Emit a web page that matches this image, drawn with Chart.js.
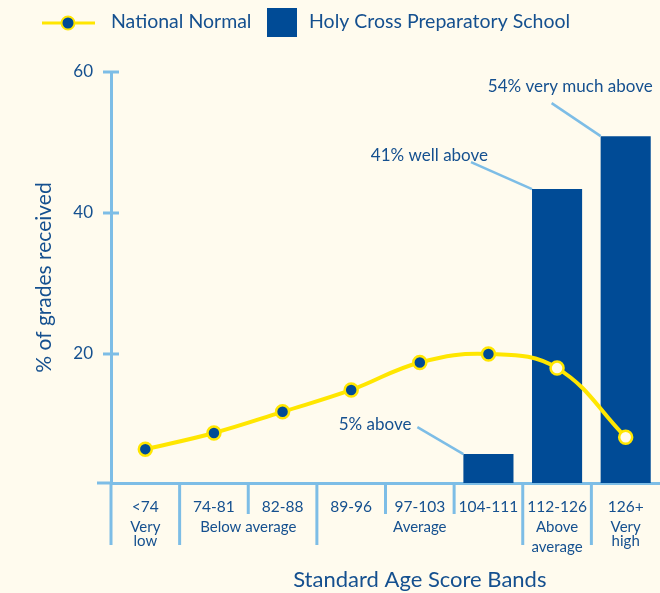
<!DOCTYPE html>
<html>
<head>
<meta charset="utf-8">
<title>Standard Age Score Bands</title>
<script src="https://cdn.jsdelivr.net/npm/chart.js@4.4.1/dist/chart.umd.min.js"></script>
<style>
  html, body { margin: 0; padding: 0; background: #fffbee; }
  #wrap { width: 660px; height: 593px; }
</style>
</head>
<body>
<div id="wrap"><canvas id="chart" width="660" height="593"></canvas></div>
<script>
// data
const bands = ['<74', '74-81', '82-88', '89-96', '97-103', '104-111', '112-126', '126+'];
const nationalNormal = [6.5, 8.8, 11.8, 14.9, 18.8, 20.0, 18.0, 8.2];
const holyCross = [null, null, null, null, null, 5.8, 43.4, 50.9];
const barNotes = [null, null, null, null, null, '5% above', '41% well above', '54% very much above'];
const groupNames = [['Very', 'low'], ['Below average'], ['Average'], ['Above', 'average'], ['Very', 'high']];
const groupStart = [0, 1, 3, 6, 7];
const groupEnd = [0, 2, 5, 6, 7];
const yTicks = [20, 40, 60];

const BLUE = '#004b96';
const TEXT = '#15508f';
const AXIS = '#7dbde6';
const YELLOW = '#ffe600';
const CREAM = '#fffbee';
const FONT = 'Lato, "Open Sans", sans-serif';

// leader line + label placement for each note, relative to bar top-left
const noteLayout = {
  5: {dx: 46, dy: 27, tx: -6, ty: -3},
  6: {dx: 61, dy: 27, tx: 17, ty: -7},
  7: {dx: 49, dy: 33, tx: 101, ty: -17}
};

const decor = {
  id: 'decor',
  afterDraw(chart) {
    const ctx = chart.ctx;
    const area = chart.chartArea;
    const x = chart.scales.x;
    const y = chart.scales.y;
    ctx.save();

    // legend
    ctx.strokeStyle = YELLOW;
    ctx.lineWidth = 3;
    ctx.beginPath();
    ctx.moveTo(42, 23);
    ctx.lineTo(95, 23);
    ctx.stroke();
    ctx.beginPath();
    ctx.arc(68, 23, 6.5, 0, Math.PI * 2);
    ctx.fillStyle = BLUE;
    ctx.fill();
    ctx.lineWidth = 2;
    ctx.stroke();
    ctx.fillStyle = BLUE;
    ctx.fillRect(267, 8, 30, 29);
    ctx.fillStyle = TEXT;
    ctx.font = '19.5px ' + FONT;
    ctx.textBaseline = 'middle';
    ctx.textAlign = 'left';
    ctx.fillText('National Normal', 111, 22);
    ctx.fillText('Holy Cross Preparatory School', 309, 22);

    // y tick marks crossing the axis
    ctx.strokeStyle = AXIS;
    ctx.lineWidth = 3;
    yTicks.forEach(v => {
      const py = y.getPixelForValue(v);
      ctx.beginPath();
      ctx.moveTo(area.left - 8, py);
      ctx.lineTo(area.left + 8, py);
      ctx.stroke();
    });

    // x axis stub left of the y axis
    ctx.beginPath();
    ctx.moveTo(area.left - 14, area.bottom);
    ctx.lineTo(area.left, area.bottom);
    ctx.stroke();

    // band separators under the axis
    for (let i = 0; i < bands.length; i++) {
      const bx = i === 0 ? area.left : (x.getPixelForValue(i - 1) + x.getPixelForValue(i)) / 2;
      const tall = groupStart.includes(i);
      ctx.beginPath();
      ctx.moveTo(bx, area.bottom);
      ctx.lineTo(bx, area.bottom + (tall ? 62 : 31));
      ctx.stroke();
    }

    // group names
    ctx.fillStyle = TEXT;
    ctx.font = '15px ' + FONT;
    ctx.textAlign = 'center';
    groupNames.forEach((lines, g) => {
      const cx = (x.getPixelForValue(groupStart[g]) + x.getPixelForValue(groupEnd[g])) / 2;
      const gap = lines[0] === 'Above' ? 20 : 14;
      lines.forEach((t, k) => ctx.fillText(t, cx, area.bottom + 44 + k * gap));
    });

    // x axis title, sits a little right of centre in the original
    ctx.font = '22px ' + FONT;
    ctx.fillText('Standard Age Score Bands', (x.getPixelForValue(3) + x.getPixelForValue(5)) / 2, 580);

    // bar notes with leader lines
    const meta = chart.getDatasetMeta(1);
    ctx.font = '17px ' + FONT;
    ctx.textAlign = 'right';
    barNotes.forEach((note, i) => {
      if (!note) return;
      const bar = meta.data[i];
      const lay = noteLayout[i];
      const left = bar.x - bar.width / 2;
      const sx = left - lay.dx;
      const sy = bar.y - lay.dy;
      ctx.strokeStyle = AXIS;
      ctx.lineWidth = 2.5;
      ctx.beginPath();
      ctx.moveTo(sx, sy);
      ctx.lineTo(left, bar.y);
      ctx.stroke();
      ctx.fillStyle = TEXT;
      ctx.fillText(note, sx + lay.tx, sy + lay.ty);
    });

    ctx.restore();
  }
};

new Chart(document.getElementById('chart'), {
  type: 'bar',
  data: {
    labels: bands,
    datasets: [
      {
        type: 'line',
        label: 'National Normal',
        data: nationalNormal,
        borderColor: YELLOW,
        borderWidth: 4,
        tension: 0.4,
        pointRadius: 6.5,
        pointBorderWidth: 2.5,
        pointBorderColor: YELLOW,
        pointBackgroundColor: bands.map((b, i) => i < 6 ? BLUE : CREAM),
        order: 0
      },
      {
        label: 'Holy Cross Preparatory School',
        data: holyCross,
        backgroundColor: BLUE,
        barPercentage: 0.73,
        categoryPercentage: 1,
        order: 1
      }
    ]
  },
  options: {
    responsive: false,
    animation: false,
    layout: { autoPadding: false, padding: { top: 72, right: 0, bottom: 0, left: 0 } },
    plugins: {
      legend: { display: false },
      tooltip: { enabled: false }
    },
    scales: {
      x: {
        offset: true,
        grid: { display: false },
        border: { display: true, color: AXIS, width: 3 },
        ticks: {
          color: TEXT,
          font: { family: FONT, size: 15.5 },
          padding: 7,
          maxRotation: 0,
          autoSkip: false
        },
        afterFit(s) {
          s.height = 110;
          s.paddingLeft = 0;
          s.paddingRight = 0;
        }
      },
      y: {
        min: 1.7,
        max: 60,
        grid: { display: false, drawTicks: false },
        border: { display: true, color: AXIS, width: 3 },
        ticks: {
          color: TEXT,
          font: { family: FONT, size: 17 },
          padding: 18
        },
        title: {
          display: true,
          text: '% of grades received',
          color: TEXT,
          font: { family: FONT, size: 21 },
          padding: { top: 32 }
        },
        afterBuildTicks(s) { s.ticks = yTicks.map(v => ({ value: v })); },
        afterFit(s) {
          s.width = 111;
          s.paddingTop = 0;
          s.paddingBottom = 0;
        }
      }
    }
  },
  plugins: [decor]
});
</script>
</body>
</html>
